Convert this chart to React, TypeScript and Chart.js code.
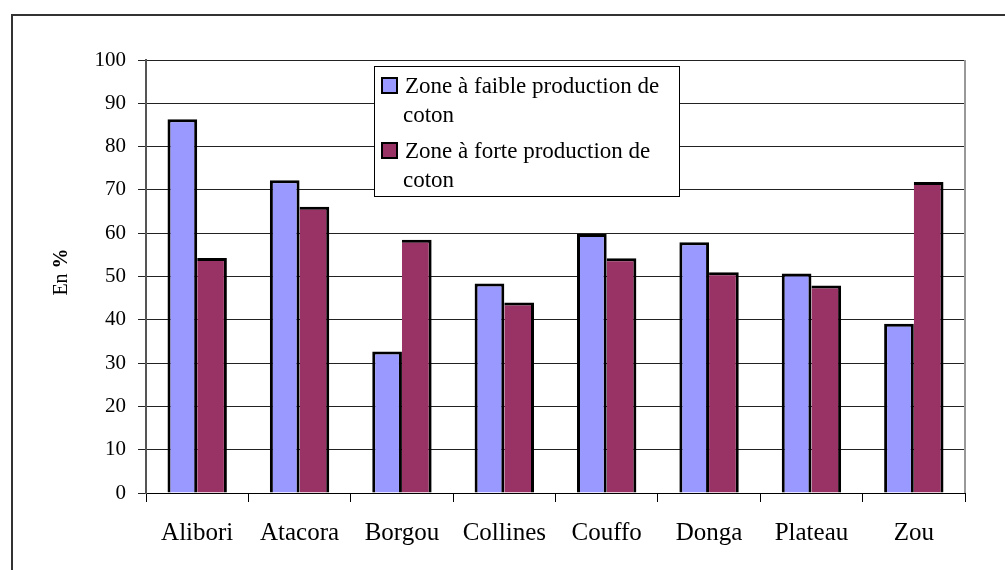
import React, { useEffect, useRef } from "react";
import { Chart, registerables } from "chart.js";

Chart.register(...registerables);

const categories = ["Alibori", "Atacora", "Borgou", "Collines", "Couffo", "Donga", "Plateau", "Zou"];
const faibleValues = [86.3, 72.2, 32.7, 48.4, 59.8, 57.9, 50.7, 39.1];
const forteValues = [54.3, 66.1, 58.5, 44.0, 54.2, 51.0, 47.9, 71.8];
const seriesLabels = ["Zone à faible production de coton", "Zone à forte production de coton"];
const yTitleNormal = "En ";
const yTitleBold = "%";

const FONT = '"Liberation Serif", "Times New Roman", serif';

function wrapText(ctx: CanvasRenderingContext2D, text: string, maxWidth: number): string[] {
  const words = text.split(" ");
  const lines: string[] = [];
  let cur = "";
  for (const w of words) {
    const test = cur ? cur + " " + w : w;
    if (ctx.measureText(test).width > maxWidth && cur) {
      lines.push(cur);
      cur = w;
    } else {
      cur = test;
    }
  }
  if (cur) lines.push(cur);
  return lines;
}

const decorPlugin = {
  id: "decor",
  afterDraw(chart: any) {
    const ctx: CanvasRenderingContext2D = chart.ctx;
    const area = chart.chartArea;
    ctx.save();
    // outer frame
    ctx.strokeStyle = "#333";
    ctx.lineWidth = 2;
    ctx.strokeRect(12, 15, 1200, 1000);

    // plot area right border
    ctx.strokeStyle = "#999";
    ctx.lineWidth = 2;
    ctx.beginPath();
    ctx.moveTo(area.right, area.top);
    ctx.lineTo(area.right, area.bottom);
    ctx.stroke();

    // Y-axis title
    ctx.fillStyle = "#000";
    ctx.textBaseline = "middle";
    ctx.textAlign = "left";
    ctx.font = `20px ${FONT}`;
    const wN = ctx.measureText(yTitleNormal).width;
    ctx.font = `bold 20px ${FONT}`;
    const wB = ctx.measureText(yTitleBold).width;
    const total = wN + wB;
    ctx.translate(62, 272);
    ctx.rotate(-Math.PI / 2);
    ctx.font = `20px ${FONT}`;
    ctx.fillText(yTitleNormal, -total / 2, 0);
    ctx.font = `bold 20px ${FONT}`;
    ctx.fillText(yTitleBold, -total / 2 + wN, 0);
    ctx.setTransform(1, 0, 0, 1, 0, 0);

    // Legend
    const bx = 374, by = 66, bw = 305, bh = 130;
    ctx.fillStyle = "#fff";
    ctx.fillRect(bx, by, bw, bh);
    ctx.strokeStyle = "#000";
    ctx.lineWidth = 1;
    ctx.strokeRect(bx + 0.5, by + 0.5, bw, bh);
    ctx.font = `23px ${FONT}`;
    ctx.textBaseline = "alphabetic";
    chart.data.datasets.forEach((ds: any, i: number) => {
      const sy = by + 12 + i * 65;
      ctx.fillStyle = ds.backgroundColor;
      ctx.fillRect(382, sy, 15, 15);
      ctx.strokeStyle = "#000";
      ctx.lineWidth = 2;
      ctx.strokeRect(382, sy, 15, 15);
      ctx.fillStyle = "#000";
      const lines = wrapText(ctx, ds.label, bw - 40);
      lines.forEach((ln, j) => {
        ctx.fillText(ln, j === 0 ? 405 : 403, sy + 15 + j * 29);
      });
    });
    ctx.restore();
  },
};

export default function App() {
  const ref = useRef<HTMLCanvasElement | null>(null);
  useEffect(() => {
    if (!ref.current) return;
    const chart = new Chart(ref.current, {
      type: "bar",
      data: {
        labels: categories,
        datasets: [
          {
            label: seriesLabels[0],
            data: faibleValues,
            backgroundColor: "#9999FF",
            borderColor: "#000",
            borderWidth: { top: 3, right: 3, bottom: 0, left: 3 },
            borderSkipped: false,
            barPercentage: 1,
            categoryPercentage: 0.58,
          },
          {
            label: seriesLabels[1],
            data: forteValues,
            backgroundColor: "#993366",
            borderColor: "#000",
            borderWidth: { top: 3, right: 3, bottom: 0, left: 0 },
            borderSkipped: false,
            barPercentage: 1,
            categoryPercentage: 0.58,
          },
        ],
      },
      options: {
        responsive: false,
        animation: false,
        layout: { padding: { left: 0, right: 40, top: 60, bottom: 0 } },
        plugins: { legend: { display: false }, tooltip: { enabled: false }, title: { display: false } },
        scales: {
          x: {
            grid: { display: true, drawOnChartArea: false, drawTicks: true, tickLength: 9, color: "#000", offset: true },
            border: { display: true, color: "#000", width: 1 },
            ticks: { color: "#000", font: { family: FONT, size: 25 }, padding: 16, maxRotation: 0, autoSkip: false },
            afterFit: (s: any) => { s.height = 77; },
          },
          y: {
            min: 0,
            max: 100,
            ticks: { stepSize: 10, color: "#000", font: { family: FONT, size: 21 }, padding: 12 },
            grid: { color: "#222", lineWidth: 1, drawTicks: true, tickLength: 8 },
            border: { display: true, color: "#555", width: 2 },
            afterFit: (s: any) => { s.width = 146; },
          },
        },
      },
      plugins: [decorPlugin],
    });
    return () => chart.destroy();
  }, []);
  return (
    <div style={{ position: "absolute", left: 0, top: 0, width: 1005, height: 570, background: "#fff" }}>
      <canvas ref={ref} width={1005} height={570} />
    </div>
  );
}
